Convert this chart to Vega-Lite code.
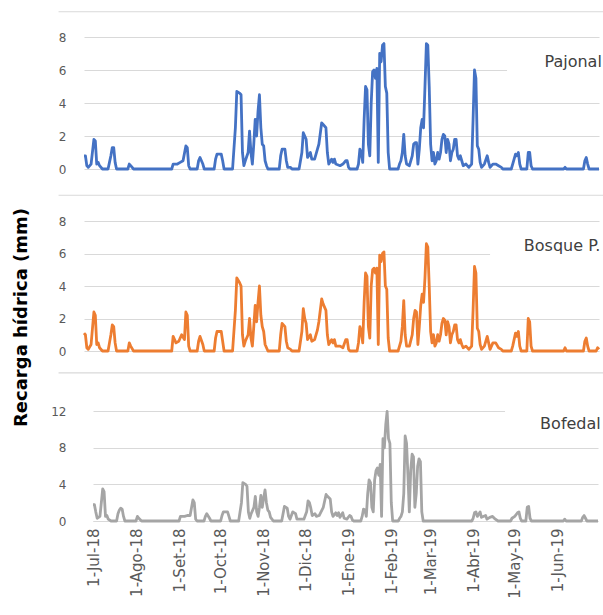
{
"$schema": "https://vega.github.io/schema/vega-lite/v6.json",
"background": "white",
"padding": {"left": 12, "top": 11, "right": 0, "bottom": 0},
"config": {"view": {"stroke": null}, "font": "DejaVu Sans",
  "axis": {"labelColor": "#595959", "labelFont": "DejaVu Sans", "labelFontSize": 12, "gridColor": "#D9D9D9", "gridWidth": 1.2, "domain": false, "ticks": false}},
"datasets": {
"pj": [
{"d":"2018-07-01","v":0.8},{"d":"2018-07-02","v":0.8},{"d":"2018-07-03","v":0.2},{"d":"2018-07-04","v":0.1},{"d":"2018-07-06","v":0.3},{"d":"2018-07-08","v":1.8},{"d":"2018-07-09","v":1.7},{"d":"2018-07-10","v":0.3},{"d":"2018-07-11","v":0.4},{"d":"2018-07-12","v":0.2},{"d":"2018-07-14","v":0},{"d":"2018-07-18","v":0},{"d":"2018-07-19","v":0.4},{"d":"2018-07-20","v":0.8},{"d":"2018-07-21","v":1.3},{"d":"2018-07-22","v":1.3},{"d":"2018-07-23","v":0.4},{"d":"2018-07-24","v":0},{"d":"2018-08-01","v":0},{"d":"2018-08-02","v":0.3},{"d":"2018-08-03","v":0.2},{"d":"2018-08-05","v":0},
{"d":"2018-09-01","v":0},{"d":"2018-09-02","v":0.3},{"d":"2018-09-05","v":0.3},{"d":"2018-09-07","v":0.4},{"d":"2018-09-09","v":0.5},{"d":"2018-09-11","v":1.4},{"d":"2018-09-12","v":1.3},{"d":"2018-09-13","v":0.2},{"d":"2018-09-14","v":0},{"d":"2018-09-19","v":0},{"d":"2018-09-20","v":0.5},{"d":"2018-09-21","v":0.7},{"d":"2018-09-23","v":0.3},{"d":"2018-09-24","v":0},
{"d":"2018-10-01","v":0},{"d":"2018-10-02","v":0.6},{"d":"2018-10-03","v":0.9},{"d":"2018-10-06","v":0.9},{"d":"2018-10-07","v":0.5},{"d":"2018-10-08","v":0},{"d":"2018-10-14","v":0},{"d":"2018-10-16","v":2.5},{"d":"2018-10-17","v":4.7},{"d":"2018-10-19","v":4.6},{"d":"2018-10-20","v":4.5},{"d":"2018-10-21","v":1.0},{"d":"2018-10-22","v":0.2},{"d":"2018-10-23","v":0.5},{"d":"2018-10-25","v":1.0},{"d":"2018-10-26","v":2.3},{"d":"2018-10-27","v":1.0},{"d":"2018-10-28","v":0.3},{"d":"2018-10-29","v":1.5},{"d":"2018-10-30","v":3.0},{"d":"2018-10-31","v":2.0},
{"d":"2018-11-01","v":3.5},{"d":"2018-11-02","v":4.5},{"d":"2018-11-03","v":2.5},{"d":"2018-11-04","v":1.5},{"d":"2018-11-05","v":1.4},{"d":"2018-11-06","v":0.5},{"d":"2018-11-07","v":0.2},{"d":"2018-11-08","v":0},{"d":"2018-11-16","v":0},{"d":"2018-11-17","v":0.8},{"d":"2018-11-18","v":1.2},{"d":"2018-11-20","v":1.2},{"d":"2018-11-21","v":0.5},{"d":"2018-11-22","v":0.1},{"d":"2018-11-24","v":0.1},{"d":"2018-11-25","v":0},{"d":"2018-11-30","v":0},
{"d":"2018-12-02","v":1.0},{"d":"2018-12-03","v":2.2},{"d":"2018-12-04","v":2.0},{"d":"2018-12-05","v":1.8},{"d":"2018-12-06","v":0.7},{"d":"2018-12-08","v":1.0},{"d":"2018-12-09","v":0.6},{"d":"2018-12-11","v":0.6},{"d":"2018-12-13","v":1.2},{"d":"2018-12-14","v":1.5},{"d":"2018-12-16","v":2.8},{"d":"2018-12-17","v":2.7},{"d":"2018-12-19","v":2.5},{"d":"2018-12-20","v":1.0},{"d":"2018-12-21","v":0.3},{"d":"2018-12-23","v":0.6},{"d":"2018-12-24","v":0.4},{"d":"2018-12-25","v":0.6},{"d":"2018-12-26","v":0.3},{"d":"2018-12-29","v":0.2},{"d":"2018-12-31","v":0.3},
{"d":"2019-01-02","v":0.5},{"d":"2019-01-03","v":0.5},{"d":"2019-01-04","v":0.1},{"d":"2019-01-05","v":0},{"d":"2019-01-10","v":0},{"d":"2019-01-11","v":0.3},{"d":"2019-01-12","v":1.2},{"d":"2019-01-13","v":1.0},{"d":"2019-01-14","v":0.4},{"d":"2019-01-15","v":3.0},{"d":"2019-01-16","v":5.0},{"d":"2019-01-17","v":4.8},{"d":"2019-01-18","v":1.5},{"d":"2019-01-19","v":0.8},{"d":"2019-01-20","v":4.0},{"d":"2019-01-21","v":5.9},{"d":"2019-01-22","v":6.0},{"d":"2019-01-23","v":5.5},{"d":"2019-01-24","v":6.1},{"d":"2019-01-25","v":0.4},{"d":"2019-01-26","v":7.0},{"d":"2019-01-27","v":6.5},{"d":"2019-01-28","v":7.5},{"d":"2019-01-29","v":7.6},{"d":"2019-01-30","v":5.0},{"d":"2019-01-31","v":4.6},
{"d":"2019-02-01","v":1.0},{"d":"2019-02-02","v":0},{"d":"2019-02-08","v":0},{"d":"2019-02-09","v":0.3},{"d":"2019-02-10","v":0.5},{"d":"2019-02-11","v":1.0},{"d":"2019-02-12","v":2.1},{"d":"2019-02-13","v":0.8},{"d":"2019-02-14","v":0.3},{"d":"2019-02-16","v":0.2},{"d":"2019-02-18","v":0.8},{"d":"2019-02-19","v":1.5},{"d":"2019-02-20","v":1.6},{"d":"2019-02-21","v":1.6},{"d":"2019-02-22","v":0.3},{"d":"2019-02-23","v":1.2},{"d":"2019-02-24","v":2.5},{"d":"2019-02-25","v":3.0},{"d":"2019-02-26","v":2.5},{"d":"2019-02-27","v":5.0},{"d":"2019-02-28","v":7.6},
{"d":"2019-03-01","v":7.5},{"d":"2019-03-02","v":5.0},{"d":"2019-03-03","v":1.5},{"d":"2019-03-04","v":0.5},{"d":"2019-03-05","v":1.0},{"d":"2019-03-06","v":0.3},{"d":"2019-03-07","v":0.5},{"d":"2019-03-08","v":1.0},{"d":"2019-03-09","v":0.6},{"d":"2019-03-10","v":1.0},{"d":"2019-03-11","v":1.8},{"d":"2019-03-12","v":2.1},{"d":"2019-03-13","v":2.0},{"d":"2019-03-14","v":1.0},{"d":"2019-03-15","v":1.8},{"d":"2019-03-16","v":1.5},{"d":"2019-03-17","v":0.5},{"d":"2019-03-18","v":1.0},{"d":"2019-03-19","v":1.2},{"d":"2019-03-20","v":1.8},{"d":"2019-03-21","v":1.8},{"d":"2019-03-22","v":0.8},{"d":"2019-03-23","v":0.6},{"d":"2019-03-24","v":0.8},{"d":"2019-03-25","v":0.5},{"d":"2019-03-26","v":0.2},{"d":"2019-03-28","v":0.3},{"d":"2019-03-30","v":0.1},
{"d":"2019-04-01","v":0.3},{"d":"2019-04-02","v":3.0},{"d":"2019-04-03","v":6.0},{"d":"2019-04-04","v":5.5},{"d":"2019-04-05","v":1.4},{"d":"2019-04-06","v":1.2},{"d":"2019-04-07","v":0.4},{"d":"2019-04-08","v":0.1},{"d":"2019-04-10","v":0.3},{"d":"2019-04-12","v":0.8},{"d":"2019-04-13","v":0.4},{"d":"2019-04-14","v":0.1},{"d":"2019-04-16","v":0.3},{"d":"2019-04-18","v":0.3},{"d":"2019-04-20","v":0.2},{"d":"2019-04-22","v":0.1},{"d":"2019-04-23","v":0},{"d":"2019-04-29","v":0},{"d":"2019-04-30","v":0.3},
{"d":"2019-05-01","v":0.6},{"d":"2019-05-02","v":0.9},{"d":"2019-05-03","v":0.8},{"d":"2019-05-04","v":1.0},{"d":"2019-05-05","v":0.3},{"d":"2019-05-06","v":0},{"d":"2019-05-10","v":0},{"d":"2019-05-11","v":1.0},{"d":"2019-05-12","v":1.0},{"d":"2019-05-13","v":0.2},{"d":"2019-05-14","v":0},{"d":"2019-06-05","v":0},{"d":"2019-06-06","v":0.1},{"d":"2019-06-07","v":0},{"d":"2019-06-19","v":0},{"d":"2019-06-20","v":0.5},{"d":"2019-06-21","v":0.7},{"d":"2019-06-22","v":0.3},{"d":"2019-06-23","v":0},{"d":"2019-06-30","v":0}
],
"bq": [
{"d":"2018-07-01","v":1.1},{"d":"2018-07-02","v":1.0},{"d":"2018-07-03","v":0.2},{"d":"2018-07-04","v":0.1},{"d":"2018-07-06","v":0.4},{"d":"2018-07-08","v":2.4},{"d":"2018-07-09","v":2.2},{"d":"2018-07-10","v":0.4},{"d":"2018-07-11","v":0.5},{"d":"2018-07-12","v":0.2},{"d":"2018-07-14","v":0},{"d":"2018-07-18","v":0},{"d":"2018-07-19","v":0.5},{"d":"2018-07-20","v":1.0},{"d":"2018-07-21","v":1.6},{"d":"2018-07-22","v":1.5},{"d":"2018-07-23","v":0.5},{"d":"2018-07-24","v":0},{"d":"2018-08-01","v":0},{"d":"2018-08-02","v":0.5},{"d":"2018-08-03","v":0.3},{"d":"2018-08-05","v":0},
{"d":"2018-09-01","v":0},{"d":"2018-09-02","v":0.9},{"d":"2018-09-04","v":0.5},{"d":"2018-09-06","v":0.6},{"d":"2018-09-08","v":1.0},{"d":"2018-09-10","v":0.7},{"d":"2018-09-11","v":2.4},{"d":"2018-09-12","v":2.2},{"d":"2018-09-13","v":0.3},{"d":"2018-09-14","v":0},{"d":"2018-09-19","v":0},{"d":"2018-09-20","v":0.6},{"d":"2018-09-21","v":0.9},{"d":"2018-09-23","v":0.4},{"d":"2018-09-24","v":0},
{"d":"2018-10-01","v":0},{"d":"2018-10-02","v":0.8},{"d":"2018-10-03","v":1.2},{"d":"2018-10-06","v":1.2},{"d":"2018-10-07","v":0.6},{"d":"2018-10-08","v":0},{"d":"2018-10-14","v":0},{"d":"2018-10-16","v":2.5},{"d":"2018-10-17","v":4.5},{"d":"2018-10-19","v":4.2},{"d":"2018-10-20","v":4.0},{"d":"2018-10-21","v":1.0},{"d":"2018-10-22","v":0.3},{"d":"2018-10-23","v":0.6},{"d":"2018-10-25","v":1.0},{"d":"2018-10-26","v":2.0},{"d":"2018-10-27","v":0.8},{"d":"2018-10-28","v":0.3},{"d":"2018-10-29","v":1.5},{"d":"2018-10-30","v":2.8},{"d":"2018-10-31","v":1.8},
{"d":"2018-11-01","v":3.0},{"d":"2018-11-02","v":4.0},{"d":"2018-11-03","v":2.2},{"d":"2018-11-04","v":1.5},{"d":"2018-11-05","v":1.2},{"d":"2018-11-06","v":0.4},{"d":"2018-11-07","v":0.2},{"d":"2018-11-08","v":0},{"d":"2018-11-16","v":0},{"d":"2018-11-17","v":1.0},{"d":"2018-11-18","v":1.7},{"d":"2018-11-20","v":1.5},{"d":"2018-11-21","v":0.6},{"d":"2018-11-22","v":0.2},{"d":"2018-11-24","v":0.1},{"d":"2018-11-25","v":0},{"d":"2018-11-30","v":0},
{"d":"2018-12-02","v":1.2},{"d":"2018-12-03","v":2.6},{"d":"2018-12-04","v":2.0},{"d":"2018-12-05","v":1.7},{"d":"2018-12-06","v":0.7},{"d":"2018-12-08","v":1.0},{"d":"2018-12-09","v":0.6},{"d":"2018-12-11","v":0.7},{"d":"2018-12-13","v":1.3},{"d":"2018-12-14","v":1.8},{"d":"2018-12-16","v":3.2},{"d":"2018-12-17","v":2.9},{"d":"2018-12-19","v":2.5},{"d":"2018-12-20","v":1.0},{"d":"2018-12-21","v":0.4},{"d":"2018-12-23","v":0.7},{"d":"2018-12-24","v":0.5},{"d":"2018-12-25","v":0.7},{"d":"2018-12-26","v":0.3},{"d":"2018-12-29","v":0.3},{"d":"2018-12-31","v":0.2},
{"d":"2019-01-02","v":0.7},{"d":"2019-01-03","v":0.7},{"d":"2019-01-04","v":0.1},{"d":"2019-01-05","v":0},{"d":"2019-01-10","v":0},{"d":"2019-01-11","v":0.5},{"d":"2019-01-12","v":1.5},{"d":"2019-01-13","v":1.2},{"d":"2019-01-14","v":0.5},{"d":"2019-01-15","v":3.0},{"d":"2019-01-16","v":4.8},{"d":"2019-01-17","v":4.6},{"d":"2019-01-18","v":1.5},{"d":"2019-01-19","v":0.8},{"d":"2019-01-20","v":4.0},{"d":"2019-01-21","v":5.0},{"d":"2019-01-22","v":5.1},{"d":"2019-01-23","v":4.8},{"d":"2019-01-24","v":5.1},{"d":"2019-01-25","v":0.4},{"d":"2019-01-26","v":5.9},{"d":"2019-01-27","v":5.5},{"d":"2019-01-28","v":6.0},{"d":"2019-01-29","v":6.1},{"d":"2019-01-30","v":4.0},{"d":"2019-01-31","v":3.8},
{"d":"2019-02-01","v":0.8},{"d":"2019-02-02","v":0},{"d":"2019-02-08","v":0},{"d":"2019-02-09","v":0.3},{"d":"2019-02-10","v":0.6},{"d":"2019-02-11","v":1.5},{"d":"2019-02-12","v":3.1},{"d":"2019-02-13","v":1.0},{"d":"2019-02-14","v":0.3},{"d":"2019-02-16","v":0.3},{"d":"2019-02-18","v":1.0},{"d":"2019-02-19","v":2.0},{"d":"2019-02-20","v":2.5},{"d":"2019-02-21","v":2.4},{"d":"2019-02-22","v":0.4},{"d":"2019-02-23","v":1.5},{"d":"2019-02-24","v":2.8},{"d":"2019-02-25","v":3.5},{"d":"2019-02-26","v":3.0},{"d":"2019-02-27","v":4.5},{"d":"2019-02-28","v":6.6},
{"d":"2019-03-01","v":6.4},{"d":"2019-03-02","v":4.0},{"d":"2019-03-03","v":1.2},{"d":"2019-03-04","v":0.5},{"d":"2019-03-05","v":1.0},{"d":"2019-03-06","v":0.3},{"d":"2019-03-07","v":0.5},{"d":"2019-03-08","v":1.0},{"d":"2019-03-09","v":0.6},{"d":"2019-03-10","v":1.0},{"d":"2019-03-11","v":1.7},{"d":"2019-03-12","v":2.0},{"d":"2019-03-13","v":1.9},{"d":"2019-03-14","v":1.0},{"d":"2019-03-15","v":1.8},{"d":"2019-03-16","v":1.5},{"d":"2019-03-17","v":0.5},{"d":"2019-03-18","v":1.0},{"d":"2019-03-19","v":1.2},{"d":"2019-03-20","v":1.6},{"d":"2019-03-21","v":1.6},{"d":"2019-03-22","v":0.7},{"d":"2019-03-23","v":0.5},{"d":"2019-03-24","v":0.7},{"d":"2019-03-25","v":0.4},{"d":"2019-03-26","v":0.2},{"d":"2019-03-28","v":0.3},{"d":"2019-03-30","v":0.1},
{"d":"2019-04-01","v":0.3},{"d":"2019-04-02","v":2.5},{"d":"2019-04-03","v":5.2},{"d":"2019-04-04","v":4.8},{"d":"2019-04-05","v":1.4},{"d":"2019-04-06","v":1.2},{"d":"2019-04-07","v":0.4},{"d":"2019-04-08","v":0.1},{"d":"2019-04-10","v":0.3},{"d":"2019-04-12","v":0.9},{"d":"2019-04-13","v":0.5},{"d":"2019-04-14","v":0.1},{"d":"2019-04-16","v":0.5},{"d":"2019-04-18","v":0.5},{"d":"2019-04-20","v":0.2},{"d":"2019-04-22","v":0.1},{"d":"2019-04-23","v":0},{"d":"2019-04-29","v":0},{"d":"2019-04-30","v":0.3},
{"d":"2019-05-01","v":0.7},{"d":"2019-05-02","v":1.1},{"d":"2019-05-03","v":0.9},{"d":"2019-05-04","v":1.2},{"d":"2019-05-05","v":0.3},{"d":"2019-05-06","v":0},{"d":"2019-05-10","v":0},{"d":"2019-05-11","v":2.0},{"d":"2019-05-12","v":1.8},{"d":"2019-05-13","v":0.3},{"d":"2019-05-14","v":0},{"d":"2019-06-05","v":0},{"d":"2019-06-06","v":0.2},{"d":"2019-06-07","v":0},{"d":"2019-06-19","v":0},{"d":"2019-06-20","v":0.6},{"d":"2019-06-21","v":0.8},{"d":"2019-06-22","v":0.3},{"d":"2019-06-23","v":0},{"d":"2019-06-28","v":0},{"d":"2019-06-29","v":0.2},{"d":"2019-06-30","v":0.1}
],
"bf": [
{"d":"2018-07-01","v":1.8},{"d":"2018-07-02","v":1.8},{"d":"2018-07-03","v":1.0},{"d":"2018-07-04","v":0.3},{"d":"2018-07-06","v":0.5},{"d":"2018-07-08","v":3.5},{"d":"2018-07-09","v":3.2},{"d":"2018-07-10","v":0.5},{"d":"2018-07-11","v":0.6},{"d":"2018-07-12","v":0.2},{"d":"2018-07-14","v":0},{"d":"2018-07-18","v":0},{"d":"2018-07-19","v":0.8},{"d":"2018-07-20","v":1.2},{"d":"2018-07-21","v":1.4},{"d":"2018-07-22","v":1.3},{"d":"2018-07-23","v":0.5},{"d":"2018-07-24","v":0},{"d":"2018-08-01","v":0},{"d":"2018-08-02","v":0.5},{"d":"2018-08-03","v":0.3},{"d":"2018-08-05","v":0},
{"d":"2018-09-01","v":0},{"d":"2018-09-02","v":0.5},{"d":"2018-09-05","v":0.5},{"d":"2018-09-07","v":0.6},{"d":"2018-09-09","v":0.6},{"d":"2018-09-11","v":2.3},{"d":"2018-09-12","v":2.0},{"d":"2018-09-13","v":0.2},{"d":"2018-09-14","v":0},{"d":"2018-09-19","v":0},{"d":"2018-09-20","v":0.5},{"d":"2018-09-21","v":0.8},{"d":"2018-09-23","v":0.3},{"d":"2018-09-24","v":0},
{"d":"2018-10-01","v":0},{"d":"2018-10-02","v":0.6},{"d":"2018-10-03","v":1.0},{"d":"2018-10-06","v":1.0},{"d":"2018-10-07","v":0.5},{"d":"2018-10-08","v":0},{"d":"2018-10-14","v":0},{"d":"2018-10-16","v":2.0},{"d":"2018-10-17","v":4.2},{"d":"2018-10-19","v":4.0},{"d":"2018-10-20","v":3.8},{"d":"2018-10-21","v":1.0},{"d":"2018-10-22","v":0.3},{"d":"2018-10-23","v":0.8},{"d":"2018-10-25","v":1.5},{"d":"2018-10-26","v":2.7},{"d":"2018-10-27","v":1.0},{"d":"2018-10-28","v":0.5},{"d":"2018-10-29","v":1.5},{"d":"2018-10-30","v":2.8},{"d":"2018-10-31","v":1.5},
{"d":"2018-11-01","v":2.5},{"d":"2018-11-02","v":3.4},{"d":"2018-11-03","v":2.0},{"d":"2018-11-04","v":1.2},{"d":"2018-11-05","v":1.0},{"d":"2018-11-06","v":0.4},{"d":"2018-11-07","v":0.2},{"d":"2018-11-08","v":0},{"d":"2018-11-14","v":0},{"d":"2018-11-15","v":0.8},{"d":"2018-11-16","v":1.6},{"d":"2018-11-18","v":1.4},{"d":"2018-11-19","v":0.5},{"d":"2018-11-20","v":0.2},{"d":"2018-11-22","v":1.0},{"d":"2018-11-24","v":0.8},{"d":"2018-11-25","v":0.2},{"d":"2018-11-30","v":0.2},
{"d":"2018-12-02","v":1.0},{"d":"2018-12-03","v":2.2},{"d":"2018-12-04","v":2.0},{"d":"2018-12-05","v":1.4},{"d":"2018-12-06","v":0.6},{"d":"2018-12-08","v":0.8},{"d":"2018-12-09","v":0.5},{"d":"2018-12-11","v":0.6},{"d":"2018-12-13","v":1.2},{"d":"2018-12-14","v":1.5},{"d":"2018-12-16","v":2.9},{"d":"2018-12-17","v":2.7},{"d":"2018-12-19","v":2.4},{"d":"2018-12-20","v":1.0},{"d":"2018-12-21","v":0.5},{"d":"2018-12-23","v":0.9},{"d":"2018-12-24","v":0.6},{"d":"2018-12-25","v":0.9},{"d":"2018-12-26","v":0.4},{"d":"2018-12-28","v":0.9},{"d":"2018-12-29","v":0.3},{"d":"2018-12-31","v":0.2},
{"d":"2019-01-02","v":0.6},{"d":"2019-01-03","v":0.5},{"d":"2019-01-04","v":0.1},{"d":"2019-01-05","v":0},{"d":"2019-01-10","v":0},{"d":"2019-01-11","v":0.5},{"d":"2019-01-12","v":1.3},{"d":"2019-01-13","v":1.2},{"d":"2019-01-14","v":0.5},{"d":"2019-01-15","v":3.0},{"d":"2019-01-16","v":4.5},{"d":"2019-01-17","v":4.2},{"d":"2019-01-18","v":1.5},{"d":"2019-01-19","v":1.0},{"d":"2019-01-20","v":4.5},{"d":"2019-01-21","v":5.5},{"d":"2019-01-22","v":5.8},{"d":"2019-01-23","v":5.0},{"d":"2019-01-24","v":6.2},{"d":"2019-01-25","v":0.5},{"d":"2019-01-26","v":9.0},{"d":"2019-01-27","v":8.0},{"d":"2019-01-28","v":10.5},{"d":"2019-01-29","v":12.0},{"d":"2019-01-30","v":9.0},{"d":"2019-01-31","v":8.5},
{"d":"2019-02-01","v":2.0},{"d":"2019-02-02","v":0},{"d":"2019-02-06","v":0},{"d":"2019-02-07","v":0.3},{"d":"2019-02-08","v":0.5},{"d":"2019-02-09","v":1.0},{"d":"2019-02-10","v":3.0},{"d":"2019-02-11","v":9.3},{"d":"2019-02-12","v":8.5},{"d":"2019-02-13","v":5.0},{"d":"2019-02-14","v":1.0},{"d":"2019-02-15","v":5.5},{"d":"2019-02-16","v":7.3},{"d":"2019-02-17","v":7.0},{"d":"2019-02-18","v":1.5},{"d":"2019-02-19","v":3.0},{"d":"2019-02-20","v":6.0},{"d":"2019-02-21","v":6.8},{"d":"2019-02-22","v":6.5},{"d":"2019-02-23","v":1.0},{"d":"2019-02-24","v":0},
{"d":"2019-03-31","v":0},{"d":"2019-04-01","v":0.3},{"d":"2019-04-02","v":0.9},{"d":"2019-04-03","v":1.0},{"d":"2019-04-04","v":0.5},{"d":"2019-04-06","v":1.0},{"d":"2019-04-07","v":0.4},{"d":"2019-04-10","v":0.6},{"d":"2019-04-11","v":0.2},{"d":"2019-04-13","v":0.4},{"d":"2019-04-15","v":0.5},{"d":"2019-04-17","v":0.2},{"d":"2019-04-19","v":0},{"d":"2019-04-28","v":0},{"d":"2019-04-29","v":0.3},
{"d":"2019-05-01","v":0.5},{"d":"2019-05-03","v":0.9},{"d":"2019-05-04","v":1.0},{"d":"2019-05-05","v":0.3},{"d":"2019-05-06","v":0},{"d":"2019-05-09","v":0},{"d":"2019-05-10","v":1.5},{"d":"2019-05-11","v":1.6},{"d":"2019-05-12","v":0.3},{"d":"2019-05-13","v":0},{"d":"2019-06-05","v":0},{"d":"2019-06-06","v":0.2},{"d":"2019-06-07","v":0},{"d":"2019-06-18","v":0},{"d":"2019-06-19","v":0.4},{"d":"2019-06-20","v":0.6},{"d":"2019-06-21","v":0.3},{"d":"2019-06-22","v":0},{"d":"2019-06-30","v":0}
]
},
"spacing": 16,
"hconcat": [
 {
  "width": 1, "height": 560,
  "data": {"values": [{}]},
  "mark": {"type": "point", "opacity": 0},
  "encoding": {"y": {"datum": 0, "type": "quantitative", "scale": {"domain": [0, 1]},
    "axis": {"title": "Recarga hídrica (mm)", "labels": false, "ticks": false, "domain": false, "grid": false,
      "titleFont": "DejaVu Sans", "titleFontSize": 18, "titleFontWeight": "bold", "titleColor": "#000000", "titlePadding": 0, "titleY": 280}}}
 },
 {
  "spacing": 19,
  "columns": 1,
  "align": "none",
  "concat": [
   {
    "width": 515, "height": 132,
    "layer": [
     {"data": {"name": "pj"}, "mark": {"type": "line", "color": "#4472C4", "strokeWidth": 2.8, "strokeJoin": "round"},
      "encoding": {"x": {"field": "d", "type": "temporal", "title": null, "scale": {"type": "utc", "domain": [{"year": 2018, "month": 7, "date": 1, "utc": true}, {"year": 2019, "month": 6, "date": 30, "utc": true}]}, "axis": {"labels": false, "grid": false, "domain": false}},
        "y": {"field": "v", "type": "quantitative", "title": null, "scale": {"domain": [0, 8]}, "axis": {"values": [0, 2, 4, 6, 8], "labelPadding": 18}}}},
     {"data": {"values": [{"b": 9.53}, {"b": -1.59}]}, "mark": {"type": "rule", "color": "#D9D9D9", "strokeWidth": 1.2},
      "encoding": {"x": {"datum": {"year": 2018, "month": 6, "date": 13, "utc": true}, "type": "temporal", "title": null, "axis": {"labels": false, "grid": false, "domain": false}},
        "x2": {"datum": {"year": 2019, "month": 7, "date": 5, "utc": true}},
        "y": {"field": "b", "type": "quantitative", "title": null, "axis": {"values": [0, 2, 4, 6, 8], "labelPadding": 18}}}},
     {"data": {"values": [{}]}, "mark": {"type": "rect", "color": "white"},
      "encoding": {"x": {"datum": {"year": 2019, "month": 4, "date": 26, "utc": true}, "type": "temporal", "title": null, "axis": {"labels": false, "grid": false, "domain": false}},
        "x2": {"datum": {"year": 2019, "month": 7, "date": 6, "utc": true}},
        "y": {"datum": 4.8, "type": "quantitative", "title": null, "axis": {"values": [0, 2, 4, 6, 8], "labelPadding": 18}}, "y2": {"datum": 7.3}}},
     {"data": {"values": [{}]}, "mark": {"type": "text", "align": "right", "baseline": "middle", "font": "DejaVu Sans", "fontSize": 16, "color": "#404040"},
      "encoding": {"x": {"datum": {"year": 2019, "month": 7, "date": 2, "utc": true}, "type": "temporal", "title": null, "axis": {"labels": false, "grid": false, "domain": false}},
        "y": {"datum": 6.5, "type": "quantitative", "title": null, "axis": {"values": [0, 2, 4, 6, 8], "labelPadding": 18}}, "text": {"value": "Pajonal"}}}
    ]
   },
   {
    "width": 515, "height": 130,
    "layer": [
     {"data": {"name": "bq"}, "mark": {"type": "line", "color": "#ED7D31", "strokeWidth": 2.8, "strokeJoin": "round"},
      "encoding": {"x": {"field": "d", "type": "temporal", "title": null, "scale": {"type": "utc", "domain": [{"year": 2018, "month": 7, "date": 1, "utc": true}, {"year": 2019, "month": 6, "date": 30, "utc": true}]}, "axis": {"labels": false, "grid": false, "domain": false}},
        "y": {"field": "v", "type": "quantitative", "title": null, "scale": {"domain": [0, 8]}, "axis": {"values": [0, 2, 4, 6, 8], "labelPadding": 18}}}},
     {"data": {"values": [{"b": -1.35}]}, "mark": {"type": "rule", "color": "#D9D9D9", "strokeWidth": 1.2},
      "encoding": {"x": {"datum": {"year": 2018, "month": 6, "date": 13, "utc": true}, "type": "temporal", "title": null, "axis": {"labels": false, "grid": false, "domain": false}},
        "x2": {"datum": {"year": 2019, "month": 7, "date": 5, "utc": true}},
        "y": {"field": "b", "type": "quantitative", "title": null, "axis": {"values": [0, 2, 4, 6, 8], "labelPadding": 18}}}},
     {"data": {"values": [{}]}, "mark": {"type": "rect", "color": "white"},
      "encoding": {"x": {"datum": {"year": 2019, "month": 4, "date": 14, "utc": true}, "type": "temporal", "title": null, "axis": {"labels": false, "grid": false, "domain": false}},
        "x2": {"datum": {"year": 2019, "month": 7, "date": 6, "utc": true}},
        "y": {"datum": 4.8, "type": "quantitative", "title": null, "axis": {"values": [0, 2, 4, 6, 8], "labelPadding": 18}}, "y2": {"datum": 7.3}}},
     {"data": {"values": [{}]}, "mark": {"type": "text", "align": "right", "baseline": "middle", "font": "DejaVu Sans", "fontSize": 16, "color": "#404040"},
      "encoding": {"x": {"datum": {"year": 2019, "month": 7, "date": 1, "utc": true}, "type": "temporal", "title": null, "axis": {"labels": false, "grid": false, "domain": false}},
        "y": {"datum": 6.45, "type": "quantitative", "title": null, "axis": {"values": [0, 2, 4, 6, 8], "labelPadding": 18}}, "text": {"value": "Bosque P."}}}
    ]
   },
   {
    "width": 515, "height": 128,
    "layer": [
     {"data": {"name": "bf"}, "mark": {"type": "line", "color": "#A5A5A5", "strokeWidth": 2.8, "strokeJoin": "round"},
      "encoding": {"x": {"field": "d", "type": "temporal", "title": null, "scale": {"type": "utc", "range": [9, 514], "domain": [{"year": 2018, "month": 7, "date": 1, "utc": true}, {"year": 2019, "month": 6, "date": 30, "utc": true}]},
          "axis": {"labelAngle": -90, "labelFontSize": 15, "labelPadding": 7, "domain": true, "domainColor": "#D9D9D9", "grid": false,
            "values": [{"year": 2018, "month": 7, "date": 1, "utc": true}, {"year": 2018, "month": 8, "date": 1, "utc": true}, {"year": 2018, "month": 9, "date": 1, "utc": true}, {"year": 2018, "month": 10, "date": 1, "utc": true}, {"year": 2018, "month": 11, "date": 1, "utc": true}, {"year": 2018, "month": 12, "date": 1, "utc": true}, {"year": 2019, "month": 1, "date": 1, "utc": true}, {"year": 2019, "month": 2, "date": 1, "utc": true}, {"year": 2019, "month": 3, "date": 1, "utc": true}, {"year": 2019, "month": 4, "date": 1, "utc": true}, {"year": 2019, "month": 5, "date": 1, "utc": true}, {"year": 2019, "month": 6, "date": 1, "utc": true}],
            "labelExpr": "'1-' + ['Ene','Feb','Mar','Abr','May','Jun','Jul','Ago','Set','Oct','Nov','Dic'][utcmonth(datum.value)] + '-' + utcFormat(datum.value, '%y')"}},
        "y": {"field": "v", "type": "quantitative", "title": null, "scale": {"domain": [0, 13.96]}, "axis": {"values": [0, 4, 8, 12], "labelPadding": 18}}}},
     {"data": {"values": [{}]}, "mark": {"type": "rect", "color": "white"},
      "encoding": {"x": {"datum": {"year": 2019, "month": 4, "date": 24, "utc": true}, "type": "temporal"},
        "x2": {"datum": {"year": 2019, "month": 7, "date": 6, "utc": true}},
        "y": {"datum": 9.2, "type": "quantitative", "title": null, "axis": {"values": [0, 4, 8, 12], "labelPadding": 18}}, "y2": {"datum": 12.6}}},
     {"data": {"values": [{}]}, "mark": {"type": "text", "align": "right", "baseline": "middle", "font": "DejaVu Sans", "fontSize": 16, "color": "#404040"},
      "encoding": {"x": {"datum": {"year": 2019, "month": 7, "date": 2, "utc": true}, "type": "temporal"},
        "y": {"datum": 10.6, "type": "quantitative", "title": null, "axis": {"values": [0, 4, 8, 12], "labelPadding": 18}}, "text": {"value": "Bofedal"}}}
    ]
   }
  ]
 }
]
}
